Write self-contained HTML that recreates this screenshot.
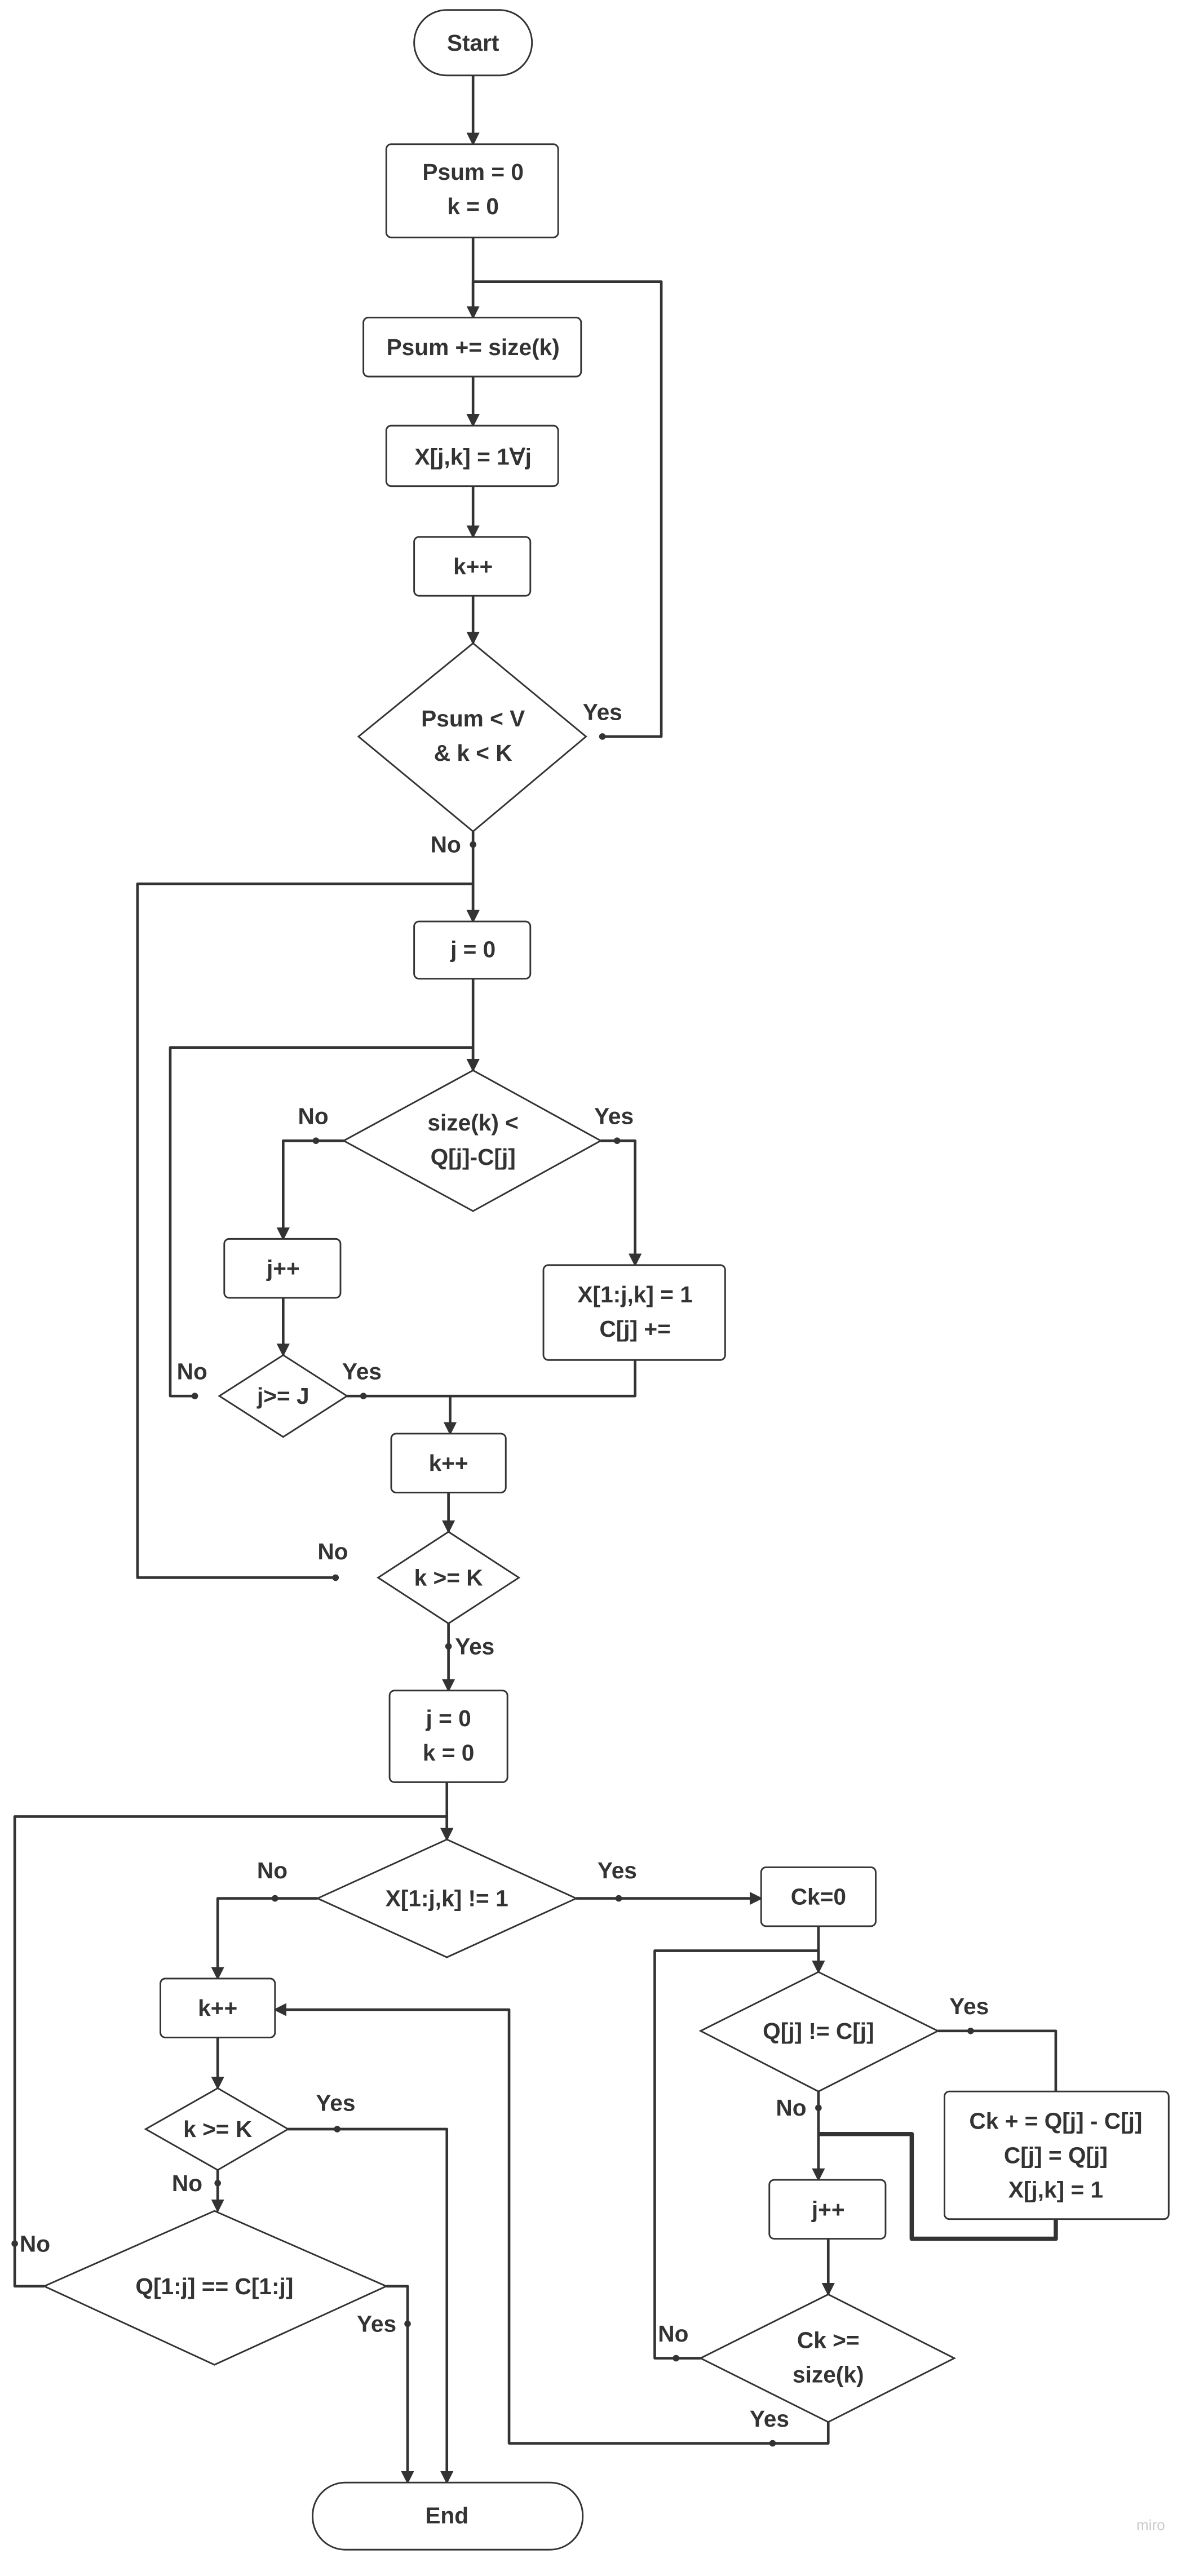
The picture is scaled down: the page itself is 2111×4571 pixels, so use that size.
<!DOCTYPE html>
<html><head><meta charset="utf-8"><style>
html,body{margin:0;padding:0;background:#fff;}
svg{display:block;}
text{font-family:"Liberation Sans",sans-serif;font-weight:bold;fill:#333;font-size:14px;text-anchor:middle;dominant-baseline:central;}
.s{fill:#fff;stroke:#333;stroke-width:1;}
.l{fill:none;stroke:#333;stroke-width:1.6;stroke-linejoin:round;}
.lb{text-anchor:start;}
</style></head><body>
<svg width="2111" height="4571" viewBox="0 0 727 1574" xmlns="http://www.w3.org/2000/svg">
<defs><marker id="a" markerWidth="8" markerHeight="8" refX="7" refY="4" orient="auto" markerUnits="userSpaceOnUse"><path d="M0,0 L8,4 L0,8 z" fill="#333"/></marker></defs>
<rect x="0" y="0" width="727" height="1574" fill="#fff"/>

<!-- connectors -->
<g class="l" marker-end="url(#a)">
<path d="M289,46 V88"/>
<path d="M289,145 V194"/>
<path d="M368,450 H404 V172 H289 V194" marker-end="none"/>
<path d="M289,230 V260"/>
<path d="M289,297 V328"/>
<path d="M289,364 V393"/>
<path d="M289,508 V563"/>
<path d="M205,964 H84 V540 H289 V563"/>
<path d="M289,598 V654"/>
<path d="M119,853 H104 V640 H289 V654"/>
<path d="M210,697 H173 V757"/>
<path d="M173,793 V828"/>
<path d="M367,697 H388 V773"/>
<path d="M212,853 H275 V876"/>
<path d="M388,831 V853 H275" marker-end="none"/>
<path d="M274,912 V936"/>
<path d="M274,992 V1033"/>
<path d="M273,1089 V1124"/>
<path d="M27,1397 H9 V1110 H273 V1124"/>
<path d="M194,1160 H133 V1209"/>
<path d="M352,1160 H465"/>
<path d="M500,1177 V1205"/>
<path d="M428,1441 H400 V1192 H500 V1205"/>
<path d="M573,1241 H645 V1278" marker-end="none"/>
<path d="M500,1278 V1332"/>
<path d="M645,1356 V1368 H557 V1304 H500" marker-end="none" style="stroke-width:2.6"/>
<path d="M506,1368 V1402"/>
<path d="M506,1480 V1493 H311 V1228 H168"/>
<path d="M133,1245 V1276"/>
<path d="M176,1301 H273 V1517"/>
<path d="M133,1326 V1351"/>
<path d="M236,1397 H249 V1517"/>
</g>
<g fill="#333">
<circle cx="368" cy="450" r="2"/><circle cx="193" cy="697" r="2"/><circle cx="119" cy="853" r="2"/>
<circle cx="222" cy="853" r="2"/><circle cx="205" cy="964" r="2"/><circle cx="168" cy="1160" r="2"/>
<circle cx="378" cy="1160" r="2"/><circle cx="593" cy="1241" r="2"/><circle cx="500" cy="1288" r="2"/>
<circle cx="413" cy="1441" r="2"/><circle cx="472" cy="1493" r="2"/><circle cx="206" cy="1301" r="2"/>
<circle cx="133" cy="1334" r="2"/><circle cx="9" cy="1371" r="2"/><circle cx="249" cy="1420" r="2"/>
<circle cx="274" cy="1006" r="2"/><circle cx="289" cy="516" r="2"/><circle cx="377" cy="697" r="2"/>
</g>

<!-- shapes -->
<rect class="s" x="253" y="6" width="72" height="40" rx="20"/><text x="289" y="26">Start</text>
<rect class="s" x="236" y="88" width="105" height="57" rx="3"/><text x="289" y="105">Psum = 0</text><text x="289" y="126">k = 0</text>
<rect class="s" x="222" y="194" width="133" height="36" rx="3"/><text x="289" y="212">Psum += size(k)</text>
<rect class="s" x="236" y="260" width="105" height="37" rx="3"/><text x="289" y="279">X[j,k] = 1∀j</text>
<rect class="s" x="253" y="328" width="71" height="36" rx="3"/><text x="289" y="346">k++</text>
<path class="s" d="M289,393 L358,450 L289,508 L219,450 Z"/><text x="289" y="439">Psum &lt; V</text><text x="289" y="460">&amp; k &lt; K</text>
<text class="lb" x="356" y="435">Yes</text><text class="lb" x="263" y="516">No</text>
<rect class="s" x="253" y="563" width="71" height="35" rx="3"/><text x="289" y="580">j = 0</text>
<path class="s" d="M289,654 L367,697 L289,740 L210,697 Z"/><text x="289" y="686">size(k) &lt;</text><text x="289" y="707">Q[j]-C[j]</text>
<text class="lb" x="182" y="682">No</text><text class="lb" x="363" y="682">Yes</text>
<rect class="s" x="137" y="757" width="71" height="36" rx="3"/><text x="173" y="775">j++</text>
<rect class="s" x="332" y="773" width="111" height="58" rx="3"/><text x="388" y="791">X[1:j,k] = 1</text><text x="388" y="812">C[j] +=</text>
<path class="s" d="M173,828 L212,853 L173,878 L134,853 Z"/><text x="173" y="853">j&gt;= J</text>
<text class="lb" x="108" y="838">No</text><text class="lb" x="209" y="838">Yes</text>
<rect class="s" x="239" y="876" width="70" height="36" rx="3"/><text x="274" y="894">k++</text>
<path class="s" d="M274,936 L317,964 L274,992 L231,964 Z"/><text x="274" y="964">k &gt;= K</text>
<text class="lb" x="194" y="948">No</text><text class="lb" x="278" y="1006">Yes</text>
<rect class="s" x="238" y="1033" width="72" height="56" rx="3"/><text x="274" y="1050">j = 0</text><text x="274" y="1071">k = 0</text>
<path class="s" d="M273,1124 L352,1160 L273,1196 L194,1160 Z"/><text x="273" y="1160">X[1:j,k] != 1</text>
<text class="lb" x="157" y="1143">No</text><text class="lb" x="365" y="1143">Yes</text>
<rect class="s" x="465" y="1141" width="70" height="36" rx="3"/><text x="500" y="1159">Ck=0</text>
<path class="s" d="M500,1205 L573,1241 L500,1278 L428,1241 Z"/><text x="500" y="1241">Q[j] != C[j]</text>
<text class="lb" x="580" y="1226">Yes</text><text class="lb" x="474" y="1288">No</text>
<rect class="s" x="577" y="1278" width="137" height="78" rx="3"/><text x="645" y="1296">Ck + = Q[j] - C[j]</text><text x="645" y="1317">C[j] = Q[j]</text><text x="645" y="1338">X[j,k] = 1</text>
<rect class="s" x="470" y="1332" width="71" height="36" rx="3"/><text x="506" y="1350">j++</text>
<path class="s" d="M506,1402 L583,1441 L506,1480 L428,1441 Z"/><text x="506" y="1430">Ck &gt;=</text><text x="506" y="1451">size(k)</text>
<text class="lb" x="402" y="1426">No</text><text class="lb" x="458" y="1478">Yes</text>
<rect class="s" x="98" y="1209" width="70" height="36" rx="3"/><text x="133" y="1227">k++</text>
<path class="s" d="M133,1276 L176,1301 L133,1326 L89,1301 Z"/><text x="133" y="1301">k &gt;= K</text>
<text class="lb" x="193" y="1285">Yes</text><text class="lb" x="105" y="1334">No</text>
<path class="s" d="M131,1351 L236,1397 L131,1445 L27,1397 Z"/><text x="131" y="1397">Q[1:j] == C[1:j]</text>
<text class="lb" x="12" y="1371">No</text><text class="lb" x="218" y="1420">Yes</text>
<rect class="s" x="191" y="1517" width="165" height="41" rx="20"/><text x="273" y="1537">End</text>
<text x="703" y="1543" style="fill:#ccc;font-size:9px;font-weight:normal">miro</text>
</svg>
</body></html>
